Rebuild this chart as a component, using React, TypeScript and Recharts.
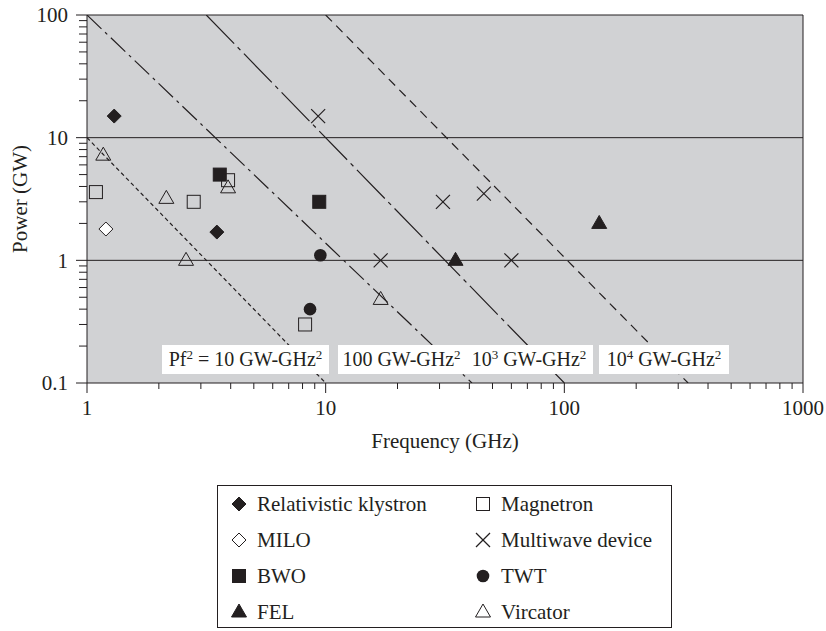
import React from "react"
import { ComposedChart, Scatter, XAxis, YAxis, CartesianGrid, ReferenceLine } from "recharts"

// device data: frequency f (GHz), power P (GW)
const KLYSTRON = [{ f: 1.3, P: 15 }, { f: 3.5, P: 1.7 }]
const MILO = [{ f: 1.2, P: 1.8 }]
const BWO = [{ f: 3.6, P: 5 }, { f: 9.4, P: 3 }]
const FEL = [{ f: 35, P: 1 }, { f: 140, P: 2 }]
const MAGNETRON = [{ f: 1.09, P: 3.6 }, { f: 2.8, P: 3 }, { f: 3.9, P: 4.5 }, { f: 8.2, P: 0.3 }]
const MULTIWAVE = [{ f: 9.3, P: 15 }, { f: 17, P: 1 }, { f: 31, P: 3 }, { f: 46, P: 3.5 }, { f: 60, P: 1 }]
const TWT = [{ f: 9.5, P: 1.1 }, { f: 8.6, P: 0.4 }]
const VIRCATOR = [{ f: 1.17, P: 7.2 }, { f: 2.15, P: 3.2 }, { f: 2.6, P: 1 }, { f: 3.9, P: 3.9 }, { f: 17, P: 0.48 }]

// Pf^2 = const guide lines (end points as drawn)
const PF_10 = [{ f: 1, P: 10 }, { f: 10, P: 0.1 }]
const PF_100 = [{ f: 1, P: 100 }, { f: 41, P: 0.1 }]
const PF_1000 = [{ f: 3.16, P: 100 }, { f: 100, P: 0.1 }]
const PF_10000 = [{ f: 10, P: 100 }, { f: 330, P: 0.1 }]

const X_TICKS = [1, 2, 3, 4, 5, 6, 7, 8, 9, 10, 20, 30, 40, 50, 60, 70, 80, 90, 100, 200, 300, 400, 500, 600, 700, 800, 900, 1000]
const Y_TICKS = [0.1, 0.2, 0.3, 0.4, 0.5, 0.6, 0.7, 0.8, 0.9, 1, 2, 3, 4, 5, 6, 7, 8, 9, 10, 20, 30, 40, 50, 60, 70, 80, 90, 100]
const X_LABELS = [1, 10, 100, 1000]
const Y_LABELS = [0.1, 1, 10, 100]

const INK = "#231f20"
const BG = "#d1d2d4"
const FONT = "'Liberation Serif', 'Times New Roman', serif"

const isMajor = (v: number, list: number[]) => list.some((m) => Math.abs(m - v) < 1e-9)

function XTick(props: any) {
  const { x, y, payload } = props
  const major = isMajor(payload.value, X_LABELS)
  return (
    <g>
      <line x1={x} y1={y} x2={x} y2={y + (major ? 10 : 6)} stroke={INK} strokeWidth={1} />
      {major && (
        <text x={x} y={y + 32} textAnchor="middle" fontSize={21} fontFamily={FONT} fill={INK}>
          {payload.value}
        </text>
      )}
    </g>
  )
}

function YTick(props: any) {
  const { x, y, payload } = props
  const major = isMajor(payload.value, Y_LABELS)
  return (
    <g>
      <line x1={x} y1={y} x2={x - (major ? 11 : 8)} y2={y} stroke={INK} strokeWidth={1} />
      {major && (
        <text x={x - 19} y={y} dy="0.35em" textAnchor="end" fontSize={21} fontFamily={FONT} fill={INK}>
          {payload.value}
        </text>
      )}
    </g>
  )
}

// marker shapes
const diamond = (cx: number, cy: number, fill: string) => (
  <polygon points={`${cx},${cy - 7} ${cx + 7},${cy} ${cx},${cy + 7} ${cx - 7},${cy}`} fill={fill} stroke={INK} strokeWidth={1} />
)
const square = (cx: number, cy: number, fill: string) => (
  <rect x={cx - 6.5} y={cy - 6.5} width={13} height={13} fill={fill} stroke={INK} strokeWidth={1} />
)
const triangle = (cx: number, cy: number, fill: string) => (
  <polygon points={`${cx},${cy - 8} ${cx + 7.5},${cy + 5} ${cx - 7.5},${cy + 5}`} fill={fill} stroke={INK} strokeWidth={1} />
)
const circle = (cx: number, cy: number) => <circle cx={cx} cy={cy} r={6.3} fill={INK} />
const cross = (cx: number, cy: number) => (
  <g stroke={INK} strokeWidth={1.2}>
    <line x1={cx - 7} y1={cy - 7} x2={cx + 7} y2={cy + 7} />
    <line x1={cx - 7} y1={cy + 7} x2={cx + 7} y2={cy - 7} />
  </g>
)

const MARKERS: Record<string, (cx: number, cy: number) => React.ReactElement> = {
  klystron: (cx, cy) => diamond(cx, cy, INK),
  milo: (cx, cy) => diamond(cx, cy, "#fff"),
  bwo: (cx, cy) => square(cx, cy, INK),
  fel: (cx, cy) => triangle(cx, cy, INK),
  magnetron: (cx, cy) => square(cx, cy, "none"),
  multiwave: (cx, cy) => cross(cx, cy),
  twt: (cx, cy) => circle(cx, cy),
  vircator: (cx, cy) => triangle(cx, cy, "none"),
}

const SERIES = [
  { key: "klystron", name: "Relativistic klystron", data: KLYSTRON },
  { key: "milo", name: "MILO", data: MILO },
  { key: "bwo", name: "BWO", data: BWO },
  { key: "fel", name: "FEL", data: FEL },
  { key: "magnetron", name: "Magnetron", data: MAGNETRON },
  { key: "multiwave", name: "Multiwave device", data: MULTIWAVE },
  { key: "twt", name: "TWT", data: TWT },
  { key: "vircator", name: "Vircator", data: VIRCATOR },
]

const GUIDES = [
  { data: PF_10, dash: "4 3" },
  { data: PF_100, dash: "20 5 3 5" },
  { data: PF_1000, dash: "40 5 4 5" },
  { data: PF_10000, dash: "9 6" },
]

const LABEL_BOXES = [
  { left: 162, width: 167, base: "Pf", sup1: "2", mid: " = 10 GW-GHz" },
  { left: 338, width: 127, base: "", sup1: "", mid: "100 GW-GHz" },
  { left: 465, width: 128, base: "10", sup1: "3", mid: " GW-GHz" },
  { left: 599, width: 130, base: "10", sup1: "4", mid: " GW-GHz" },
]

const LEGEND_ROWS = [
  ["klystron", "magnetron"],
  ["milo", "multiwave"],
  ["bwo", "twt"],
  ["fel", "vircator"],
]

function LegendMark({ kind }: { kind: string }) {
  return (
    <svg width={18} height={18} style={{ display: "block" }}>
      {MARKERS[kind](9, 9)}
    </svg>
  )
}

const supStyle: React.CSSProperties = { fontSize: 13, verticalAlign: "7px", lineHeight: 0 }

export default function App() {
  const nameOf = (k: string) => SERIES.find((s) => s.key === k)!.name
  return (
    <div style={{ position: "absolute", left: 0, top: 0, width: 826, height: 631, background: "#fff", fontFamily: FONT, color: INK }}>
      <ComposedChart width={826} height={470} margin={{ top: 15, right: 23, bottom: 0, left: 0 }}>
        <CartesianGrid horizontal={false} vertical={false} fill={BG} fillOpacity={1} />
        <XAxis
          dataKey="f"
          type="number"
          scale="log"
          domain={[1, 1000]}
          allowDataOverflow
          ticks={X_TICKS}
          interval={0}
          tickSize={0}
          tickMargin={0}
          tickLine={false}
          tick={<XTick />}
          height={87}
          stroke={INK}
          label={{
            content: () => (
              <text x={445} y={448} textAnchor="middle" fontSize={21} fontFamily={FONT} fill={INK}>
                Frequency (GHz)
              </text>
            ),
          }}
        />
        <YAxis
          dataKey="P"
          type="number"
          scale="log"
          domain={[0.1, 100]}
          allowDataOverflow
          ticks={Y_TICKS}
          interval={0}
          tickSize={0}
          tickMargin={0}
          tickLine={false}
          tick={<YTick />}
          width={87}
          stroke={INK}
          label={{
            content: () => (
              <text x={20} y={199} transform="rotate(-90 20 199)" textAnchor="middle" dominantBaseline="central" fontSize={21} fontFamily={FONT} fill={INK}>
                Power (GW)
              </text>
            ),
          }}
        />
        <ReferenceLine y={1} stroke={INK} strokeWidth={1} />
        <ReferenceLine y={10} stroke={INK} strokeWidth={1} />
        <ReferenceLine y={100} stroke={INK} strokeWidth={1} />
        <ReferenceLine x={1000} stroke={INK} strokeWidth={1} />
        {GUIDES.map((g, i) => (
          <Scatter
            key={`guide-${i}`}
            data={g.data}
            line={{ stroke: INK, strokeWidth: 1.2, strokeDasharray: g.dash }}
            shape={() => <g />}
            isAnimationActive={false}
          />
        ))}
        {SERIES.map((s) => (
          <Scatter
            key={s.key}
            name={s.name}
            data={s.data}
            shape={(p: any) => MARKERS[s.key](p.cx, p.cy)}
            isAnimationActive={false}
          />
        ))}
      </ComposedChart>

      {LABEL_BOXES.map((b, i) => (
        <div
          key={i}
          style={{
            position: "absolute",
            left: b.left,
            top: 345,
            width: b.width,
            height: 29,
            background: "#fff",
            fontSize: 20,
            lineHeight: "29px",
            textAlign: "center",
            whiteSpace: "nowrap",
          }}
        >
          {b.base}
          {b.sup1 && <sup style={supStyle}>{b.sup1}</sup>}
          {b.mid}
          <sup style={supStyle}>2</sup>
        </div>
      ))}

      <div
        style={{
          position: "absolute",
          left: 217,
          top: 485,
          width: 453,
          height: 141,
          border: `1px solid ${INK}`,
          background: "#fff",
        }}
      >
        {LEGEND_ROWS.map((row, r) =>
          row.map((k, c) => (
            <div
              key={k}
              style={{
                position: "absolute",
                left: c === 0 ? 12 : 256,
                top: 18 + r * 36 - 14,
                height: 28,
                display: "flex",
                alignItems: "center",
                fontSize: 21,
                whiteSpace: "nowrap",
              }}
            >
              <LegendMark kind={k} />
              <span style={{ marginLeft: 9 }}>{nameOf(k)}</span>
            </div>
          ))
        )}
      </div>
    </div>
  )
}
